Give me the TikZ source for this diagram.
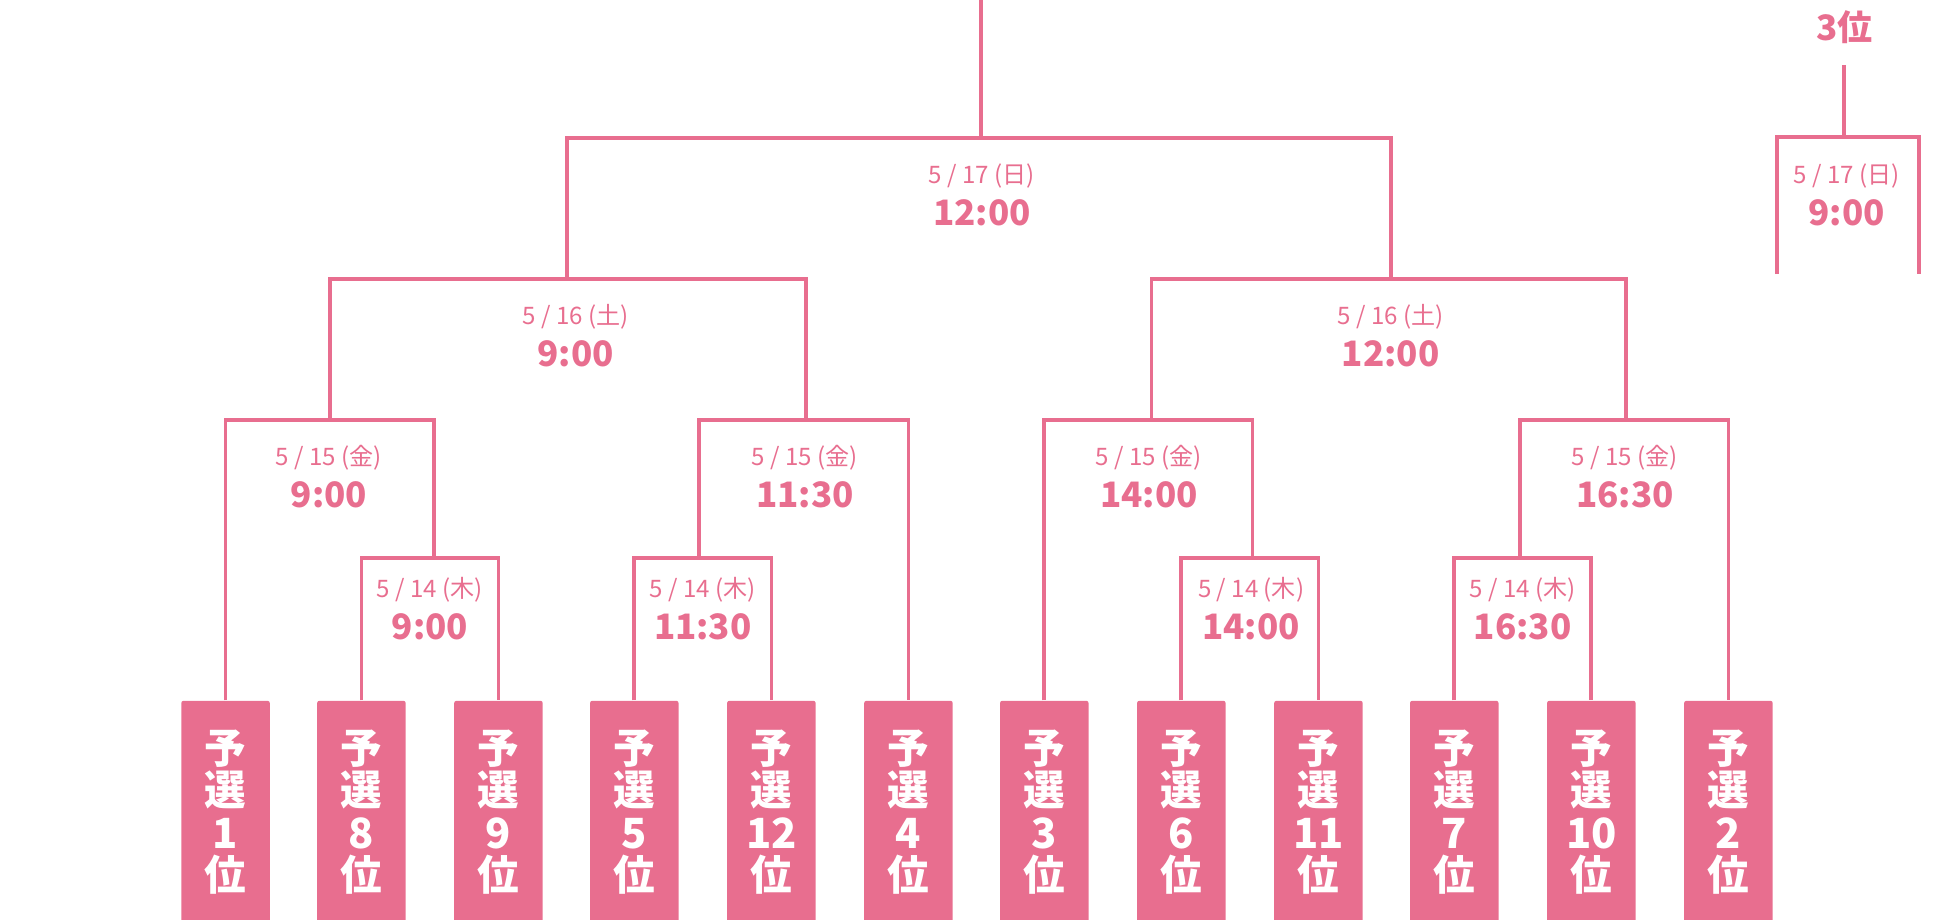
\documentclass[tikz,border=0pt]{standalone}
\usepackage{fontspec}
\setmainfont{Noto Sans CJK JP}
\usetikzlibrary{positioning}
\definecolor{pink}{RGB}{232,110,143}

\begin{document}
\begin{tikzpicture}[x=0.02cm,y=-0.02cm,
  line/.style={draw=pink, line width=0.06cm},
  seed/.style={fill=pink, text=white, minimum width=1.42cm, minimum height=3.58cm, inner sep=0pt, anchor=north,
    align=center, font=\fontsize{19}{19.4}\selectfont\bfseries, rounded corners=1pt},
  date/.style={text=pink, font=\fontsize{11}{13}\selectfont, inner sep=0pt},
  time/.style={text=pink, font=\fontsize{16}{18}\selectfont\bfseries, inner sep=0pt}]
\useasboundingbox (0,0) rectangle (1560,738);

% seeds
\node [seed] (p1)  at (181,562) {予\\選\\1\\位};
\node [seed] (p8)  at (290,562) {予\\選\\8\\位};
\node [seed] (p9)  at (400,562) {予\\選\\9\\位};
\node [seed] (p5)  at (509,562) {予\\選\\5\\位};
\node [seed] (p12) at (619,562) {予\\選\\12\\位};
\node [seed] (p4)  at (729,562) {予\\選\\4\\位};
\node [seed] (p3)  at (838,562) {予\\選\\3\\位};
\node [seed] (p6)  at (948,562) {予\\選\\6\\位};
\node [seed] (p11) at (1058,562) {予\\選\\11\\位};
\node [seed] (p7)  at (1167,562) {予\\選\\7\\位};
\node [seed] (p10) at (1277,562) {予\\選\\10\\位};
\node [seed] (p2)  at (1387,562) {予\\選\\2\\位};

% bracket tops
\coordinate (a1) at (348,448);
\coordinate (a2) at (561,448);
\coordinate (a3) at (1005,448);
\coordinate (a4) at (1220,448);
\coordinate (b1) at (265,337);
\coordinate (b2) at (647,337);
\coordinate (b3) at (924,337);
\coordinate (b4) at (1305,337);
\coordinate (c1) at (455,224);
\coordinate (c2) at (1116,224);
\coordinate (fin) at (787,111);
\coordinate (top) at (787,0);

\draw [line] (p8.north) |- (a1) -| (p9.north);
\draw [line] (p5.north) |- (a2) -| (p12.north);
\draw [line] (p6.north) |- (a3) -| (p11.north);
\draw [line] (p7.north) |- (a4) -| (p10.north);
\draw [line] (p1.north) |- (b1) -| (a1);
\draw [line] (a2) |- (b2) -| (p4.north);
\draw [line] (p3.north) |- (b3) -| (a3);
\draw [line] (a4) |- (b4) -| (p2.north);
\draw [line] (b1) |- (c1) -| (b2);
\draw [line] (b3) |- (c2) -| (b4);
\draw [line] (c1) |- (fin) -| (c2);
\draw [line] (fin) -- (top);

% third place
\node [time] (third) at (1480,22) {3位};
\coordinate (t0) at (1480,52);
\coordinate (t1) at (1480,110);
\coordinate (tl) at (1426,220);
\coordinate (tr) at (1540,220);
\draw [line] (t0) -- (t1);
\draw [line] (tl) |- (t1) -| (tr);

% schedule labels
\node [date] at (345,473) {5 / 14 (木)};  \node [time] at (345,503) {9:00};
\node [date] at (564,473) {5 / 14 (木)};  \node [time] at (564,503) {11:30};
\node [date] at (1004,473) {5 / 14 (木)}; \node [time] at (1004,503) {14:00};
\node [date] at (1222,473) {5 / 14 (木)}; \node [time] at (1222,503) {16:30};
\node [date] at (264,367) {5 / 15 (金)};  \node [time] at (264,397) {9:00};
\node [date] at (646,367) {5 / 15 (金)};  \node [time] at (646,397) {11:30};
\node [date] at (922,367) {5 / 15 (金)};  \node [time] at (922,397) {14:00};
\node [date] at (1304,367) {5 / 15 (金)}; \node [time] at (1304,397) {16:30};
\node [date] at (462,254) {5 / 16 (土)};  \node [time] at (462,284) {9:00};
\node [date] at (1116,254) {5 / 16 (土)}; \node [time] at (1116,284) {12:00};
\node [date] at (788,141) {5 / 17 (日)};  \node [time] at (788,171) {12:00};
\node [date] at (1482,141) {5 / 17 (日)}; \node [time] at (1482,171) {9:00};
\end{tikzpicture}
\end{document}
